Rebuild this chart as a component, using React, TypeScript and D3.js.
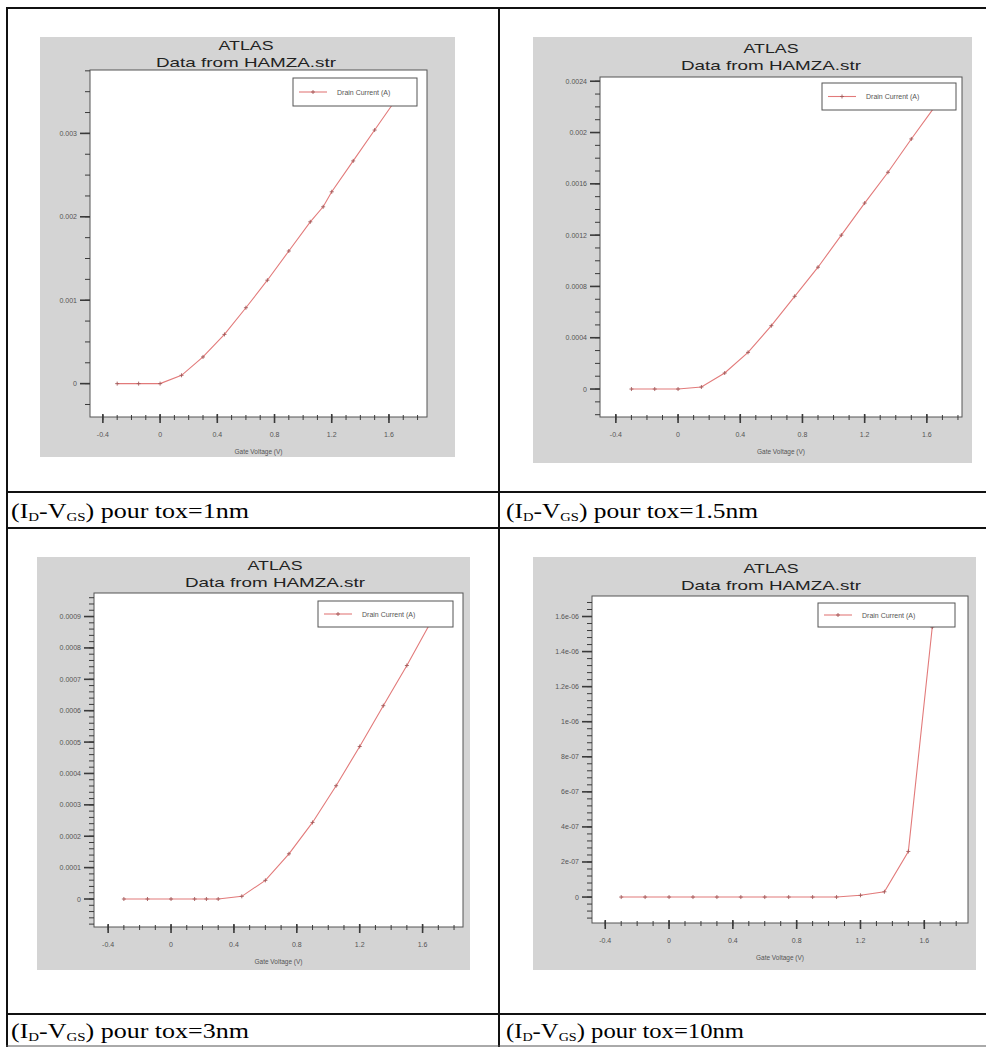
import * as d3 from "d3";

const vgs1 = [-0.3, -0.15, 0, 0.15, 0.3, 0.45, 0.6, 0.75, 0.9, 1.05, 1.14, 1.2, 1.35, 1.5, 1.65];
const id1 = [0, 0, 0, 0.0001, 0.00032, 0.00059, 0.00091, 0.00124, 0.00159, 0.00194, 0.00212, 0.0023, 0.00267, 0.00304, 0.00341];

const vgs2 = [-0.3, -0.15, 0, 0.15, 0.3, 0.45, 0.6, 0.75, 0.9, 1.05, 1.2, 1.35, 1.5, 1.65];
const id2 = [0, 0, 0, 0.000016, 0.000125, 0.000286, 0.000494, 0.000723, 0.00095, 0.0012, 0.00145, 0.00169, 0.00195, 0.0022];

const vgs3 = [-0.3, -0.15, 0, 0.15, 0.225, 0.3, 0.45, 0.6, 0.75, 0.9, 1.05, 1.2, 1.35, 1.5, 1.65];
const id3 = [0, 0, 0, 0, 0, 0, 0.0000085, 0.0000594, 0.000144, 0.000244, 0.000361, 0.000486, 0.000616, 0.000744, 0.00088];

const vgs4 = [-0.3, -0.15, 0, 0.15, 0.3, 0.45, 0.6, 0.75, 0.9, 1.05, 1.2, 1.35, 1.5, 1.65];
const id4 = [0, 0, 0, 0, 0, 0, 0, 0, 0, 0, 1e-8, 3e-8, 2.6e-7, 1.54e-6];

const xTicks = [-0.4, 0, 0.4, 0.8, 1.2, 1.6];
const xTickLabels = ["-0.4", "0", "0.4", "0.8", "1.2", "1.6"];

const yTicks1 = [0, 0.001, 0.002, 0.003];
const yTickLabels1 = ["0", "0.001", "0.002", "0.003"];
const yTicks2 = [0, 0.0004, 0.0008, 0.0012, 0.0016, 0.002, 0.0024];
const yTickLabels2 = ["0", "0.0004", "0.0008", "0.0012", "0.0016", "0.002", "0.0024"];
const yTicks3 = [0, 0.0001, 0.0002, 0.0003, 0.0004, 0.0005, 0.0006, 0.0007, 0.0008, 0.0009];
const yTickLabels3 = ["0", "0.0001", "0.0002", "0.0003", "0.0004", "0.0005", "0.0006", "0.0007", "0.0008", "0.0009"];
const yTicks4 = [0, 2e-7, 4e-7, 6e-7, 8e-7, 1e-6, 1.2e-6, 1.4e-6, 1.6e-6];
const yTickLabels4 = ["0", "2e-07", "4e-07", "6e-07", "8e-07", "1e-06", "1.2e-06", "1.4e-06", "1.6e-06"];

const captions = ["tox=1nm", " tox=1.5nm", "tox=3nm", "tox=10nm"];

const LINE = "#e27a7a";
const MARK = "#a45a5a";
const GRAY = "#d4d4d4";
const AXIS = "#3a3a3a";

const panels = [
	{
		x: vgs1, y: id1, yTicks: yTicks1, yLabels: yTickLabels1, yMinor: 0.00025,
		gray: [40, 37, 455, 457], plot: [90, 70, 427, 417],
		xDomain: [-0.49, 1.866], yDomain: [-0.0004, 0.00376],
		legend: [293, 78, 417, 106], titleX: 246, titleY: 50,
	},
	{
		x: vgs2, y: id2, yTicks: yTicks2, yLabels: yTickLabels2, yMinor: 0.0001,
		gray: [533, 37, 972, 463], plot: [600, 77, 962, 417],
		xDomain: [-0.502, 1.826], yDomain: [-0.000218, 0.002433],
		legend: [822, 83, 956, 110], titleX: 771, titleY: 53,
	},
	{
		x: vgs3, y: id3, yTicks: yTicks3, yLabels: yTickLabels3, yMinor: 0.00002,
		gray: [37, 557, 470, 970], plot: [94, 593, 463, 927],
		xDomain: [-0.49, 1.857], yDomain: [-0.0000892, 0.000975],
		legend: [318, 601, 453, 627], titleX: 275, titleY: 570,
	},
	{
		x: vgs4, y: id4, yTicks: yTicks4, yLabels: yTickLabels4, yMinor: 4e-8,
		gray: [533, 557, 976, 970], plot: [592, 596, 968, 923],
		xDomain: [-0.483, 1.874], yDomain: [-1.48e-7, 1.717e-6],
		legend: [818, 603, 955, 627], titleX: 771, titleY: 573,
	},
];

function Panel({ p, idx }) {
	const [gx0, gy0, gx1, gy1] = p.gray;
	const [px0, py0, px1, py1] = p.plot;
	const x = d3.scaleLinear().domain(p.xDomain).range([px0, px1]);
	const y = d3.scaleLinear().domain(p.yDomain).range([py1, py0]);
	const pts = p.x.map((v, i) => [v, p.y[i]]);
	const line = d3.line().x((d) => x(d[0])).y((d) => y(d[1]));

	// minor ticks
	const xMinor = d3.range(-0.4, p.xDomain[1], 0.1).filter((v) => v >= p.xDomain[0]);
	const yStart = Math.ceil(p.yDomain[0] / p.yMinor) * p.yMinor;
	const yMinor = d3.range(yStart, p.yDomain[1], p.yMinor);

	const [lx0, ly0, lx1, ly1] = p.legend;
	const ly = (ly0 + ly1) / 2;
	const clipId = "clip" + idx;

	return (
		<g>
			<rect x={gx0} y={gy0} width={gx1 - gx0} height={gy1 - gy0} fill={GRAY} />
			<defs>
				<clipPath id={clipId}>
					<rect x={px0} y={py0} width={px1 - px0} height={py1 - py0} />
				</clipPath>
			</defs>
			<rect x={px0} y={py0} width={px1 - px0} height={py1 - py0} fill="#fff" stroke="#555" strokeWidth={1} />

			{/* titles */}
			<text x={p.titleX} y={p.titleY} textAnchor="middle" fontFamily="Liberation Sans" fontSize={13}
				fill="#222" textLength={55} lengthAdjust="spacingAndGlyphs">ATLAS</text>
			<text x={p.titleX} y={p.titleY + 17} textAnchor="middle" fontFamily="Liberation Sans" fontSize={13}
				fill="#222" textLength={180} lengthAdjust="spacingAndGlyphs">Data from HAMZA.str</text>

			{/* y axis */}
			{yMinor.map((v, i) => (
				<line key={"ym" + i} x1={px0 - 5} x2={px0} y1={y(v)} y2={y(v)} stroke={AXIS} strokeWidth={1} />
			))}
			{p.yTicks.map((v, i) => (
				<g key={"yt" + i}>
					<line x1={px0 - 10} x2={px0} y1={y(v)} y2={y(v)} stroke={AXIS} strokeWidth={1.6} />
					<text x={px0 - 13} y={y(v) + 2.5} textAnchor="end" fontFamily="Liberation Sans" fontSize={7} fill="#555">
						{p.yLabels[i]}
					</text>
				</g>
			))}

			{/* x axis */}
			{xMinor.map((v, i) => (
				<line key={"xm" + i} x1={x(v)} x2={x(v)} y1={py1 - 2} y2={py1 + 3} stroke={AXIS} strokeWidth={1} />
			))}
			{xTicks.map((v, i) => (
				<g key={"xt" + i}>
					<line x1={x(v)} x2={x(v)} y1={py1 - 3} y2={py1 + 6} stroke={AXIS} strokeWidth={1.6} />
					<text x={x(v)} y={py1 + 20} textAnchor="middle" fontFamily="Liberation Sans" fontSize={7} fill="#555">
						{xTickLabels[i]}
					</text>
				</g>
			))}
			<text x={(px0 + px1) / 2} y={py1 + 37} textAnchor="middle" fontFamily="Liberation Sans" fontSize={6.5} fill="#555">
				Gate Voltage (V)
			</text>

			{/* curve */}
			<g clipPath={`url(#${clipId})`}>
				<path d={line(pts)} fill="none" stroke={LINE} strokeWidth={1.1} />
				{pts.map((d, i) => (
					<g key={"pt" + i} transform={`translate(${x(d[0])},${y(d[1])})`} stroke={MARK} strokeWidth={0.9}>
						<line x1={-2} x2={2} y1={0} y2={0} />
						<line x1={0} x2={0} y1={-2} y2={2} />
					</g>
				))}
			</g>

			{/* legend */}
			<rect x={lx0} y={ly0} width={lx1 - lx0} height={ly1 - ly0} fill="#fff" stroke="#555" strokeWidth={1} />
			<line x1={lx0 + 6} x2={lx0 + 34} y1={ly} y2={ly} stroke={LINE} strokeWidth={1.1} />
			<g transform={`translate(${lx0 + 20},${ly})`} stroke={MARK} strokeWidth={0.9}>
				<line x1={-2} x2={2} y1={0} y2={0} />
				<line x1={0} x2={0} y1={-2} y2={2} />
			</g>
			<text x={lx0 + 44} y={ly + 2.5} fontFamily="Liberation Sans" fontSize={7} fill="#555">
				Drain Current (A)
			</text>
		</g>
	);
}

function Caption({ x, y, tail }) {
	return (
		<text x={x} y={y} fontFamily="Liberation Serif" fontSize={21} fill="#000" textLength={tail.length > 8 ? 252 : 238}
			lengthAdjust="spacingAndGlyphs">
			(I<tspan fontSize={12} dy={3}>D</tspan>
			<tspan dy={-3}>-V</tspan>
			<tspan fontSize={12} dy={3}>GS</tspan>
			<tspan dy={-3}>{") pour " + tail}</tspan>
		</text>
	);
}

export default function App() {
	const W = 986;
	const H = 1047;
	return (
		<svg width={W} height={H} style={{ position: "absolute", left: 0, top: 0, display: "block", background: "#fff" }}>
			{panels.map((p, i) => (
				<Panel key={i} p={p} idx={i} />
			))}

			{/* table rules */}
			<g stroke="#111" strokeWidth={2}>
				<line x1={6} x2={W} y1={8} y2={8} />
				<line x1={7} x2={7} y1={7} y2={H} />
				<line x1={499} x2={499} y1={7} y2={H} />
				<line x1={6} x2={W} y1={492} y2={492} />
				<line x1={6} x2={W} y1={528} y2={528} />
				<line x1={6} x2={W} y1={1014} y2={1014} />
			</g>
			<line x1={6} x2={W} y1={1046} y2={1046} stroke="#555" strokeWidth={1} />

			<Caption x={11} y={518} tail={captions[0]} />
			<Caption x={506} y={518} tail={captions[1]} />
			<Caption x={11} y={1038} tail={captions[2]} />
			<Caption x={506} y={1038} tail={captions[3]} />
		</svg>
	);
}
